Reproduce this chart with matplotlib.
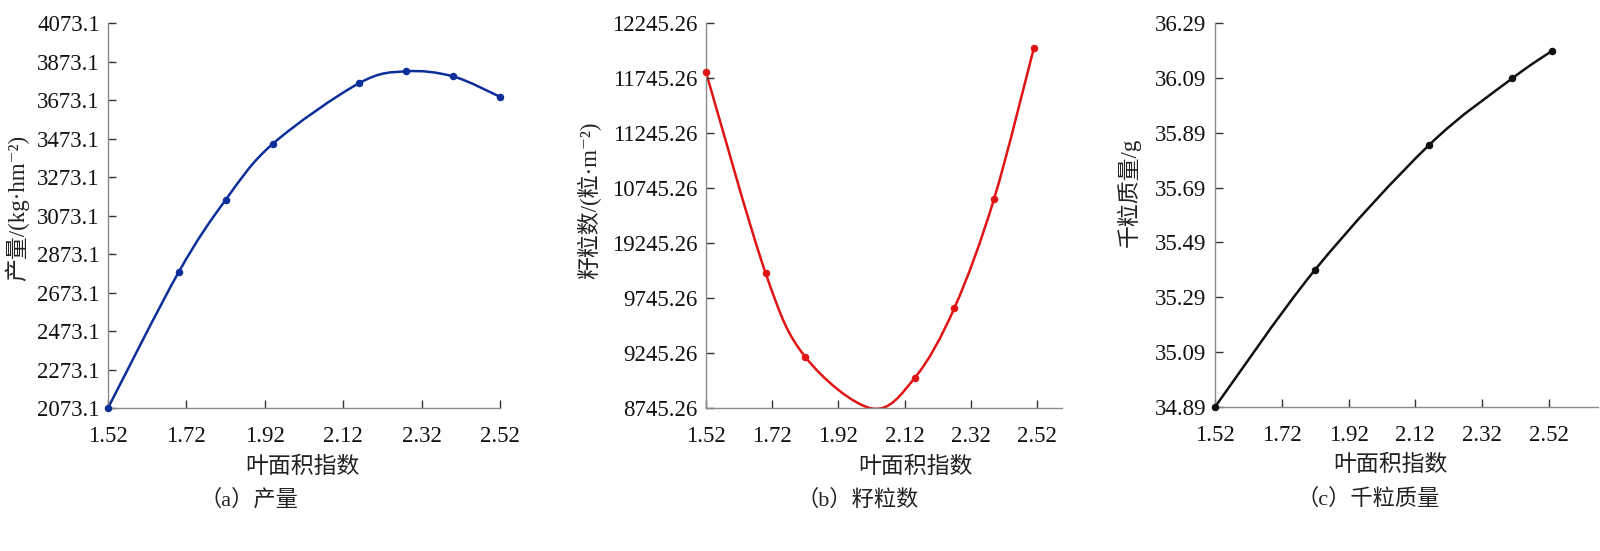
import matplotlib
matplotlib.use("Agg")
import matplotlib.pyplot as plt
import numpy as np
from matplotlib.path import Path
from matplotlib.patches import PathPatch

plt.rcParams['font.family'] = ['Liberation Serif', 'Noto Sans CJK SC', 'DejaVu Serif']

# (a) 产量
x_a = [1.52, 1.70, 1.82, 1.94, 2.16, 2.28, 2.40, 2.52]
y_a = [2073.1, 2778, 3154, 3445, 3760, 3822, 3796, 3690]
yt_a = [2073.1 + 200 * i for i in range(11)]
ytl_a = ["%.1f" % v for v in yt_a]

# (b) 籽粒数 (the trough at 2.02 has no marker in the picture)
x_b = [1.52, 1.70, 1.82, 2.02, 2.15, 2.27, 2.39, 2.51]
y_b = [11797, 9972, 9209, 8742, 9018, 9654, 10648, 12018]
mark_b = [0, 1, 2, 4, 5, 6, 7]
yt_b = [8745.26 + 500 * i for i in range(8)]
ytl_b = ["8745.26", "9245.26", "9745.26", "19245.26",
         "10745.26", "11245.26", "11745.26", "12245.26"]

# (c) 千粒质量
x_c = [1.52, 1.82, 2.16, 2.41, 2.53]
y_c = [34.89, 35.391, 35.844, 36.088, 36.189]
yt_c = [34.89 + 0.2 * i for i in range(8)]
ytl_c = ["%.2f" % v for v in yt_c]

xt = [1.52, 1.72, 1.92, 2.12, 2.32, 2.52]
xtl = ["1.52", "1.72", "1.92", "2.12", "2.32", "2.52"]


def smooth_path(xs, ys):
    # Catmull-Rom through the points, drawn as cubic Bezier segments
    pts = np.column_stack([xs, ys]).astype(float)
    p = np.vstack([pts[0], pts, pts[-1]])
    verts = [pts[0]]
    codes = [Path.MOVETO]
    for i in range(1, len(p) - 2):
        c1 = p[i] + (p[i + 1] - p[i - 1]) / 6
        c2 = p[i + 1] - (p[i + 2] - p[i]) / 6
        verts += [c1, c2, p[i + 1]]
        codes += [Path.CURVE4] * 3
    return Path(verts, codes)


fig = plt.figure(figsize=(16, 5.51), dpi=100)
ax_a = fig.add_axes([0.0675, 0.2595, 0.245, 0.6987])
ax_b = fig.add_axes([0.44125, 0.2595, 0.2225, 0.6987])
ax_c = fig.add_axes([0.759375, 0.2613, 0.2394, 0.6969])

panels = [
    (ax_a, x_a, y_a, None, '#0d2f9a', yt_a, ytl_a, 2.52,
     "产量/(kg·hm⁻²)", (-0.20, 0.52), 0.497, 0.36, "（a）产量"),
    (ax_b, x_b, y_b, mark_b, '#e01414', yt_b, ytl_b, 2.595,
     "籽粒数/(粒·m⁻²)", (-0.295, 0.54), 0.587, 0.427, "（b）籽粒数"),
    (ax_c, x_c, y_c, None, '#111111', yt_c, ytl_c, 2.667,
     "千粒质量/g", (-0.193, 0.56), 0.457, 0.40, "（c）千粒质量"),
]

for ax, xs, ys, marks, col, yt, ytl, xmax, ylab, ylpos, xlx, capx, cap in panels:
    ax.add_patch(PathPatch(smooth_path(xs, ys), fill=False, edgecolor=col, lw=1.8))
    ax.plot(xs, ys, 'o', ms=4.4, color=col, markevery=marks, clip_on=False, zorder=3)
    ax.set_xlim(1.52, xmax)
    ax.set_ylim(yt[0], yt[-1])
    ax.set_xticks(xt)
    ax.set_xticklabels(xtl)
    ax.set_yticks(yt)
    ax.set_yticklabels(ytl)
    for s in ['top', 'right']:
        ax.spines[s].set_visible(False)
    for s in ['left', 'bottom']:
        ax.spines[s].set_color('#8a8a8a')
        ax.spines[s].set_linewidth(1.0)
    ax.tick_params(axis='both', direction='in', length=6, width=1,
                   color='#333333', labelsize=16.5, labelcolor='#111111')
    ax.tick_params(axis='x', pad=13)
    ax.tick_params(axis='y', pad=6)
    ax.set_ylabel(ylab, fontsize=16.5, color='#222222')
    ax.yaxis.set_label_coords(*ylpos)
    ax.text(xlx, -0.153, "叶面积指数", transform=ax.transAxes, fontsize=16.5,
            ha='center', va='center', color='#222222')
    ax.text(capx, -0.239, cap, transform=ax.transAxes, fontsize=16,
            ha='center', va='center', color='#222222')

fig.savefig("out.png", dpi=100)
